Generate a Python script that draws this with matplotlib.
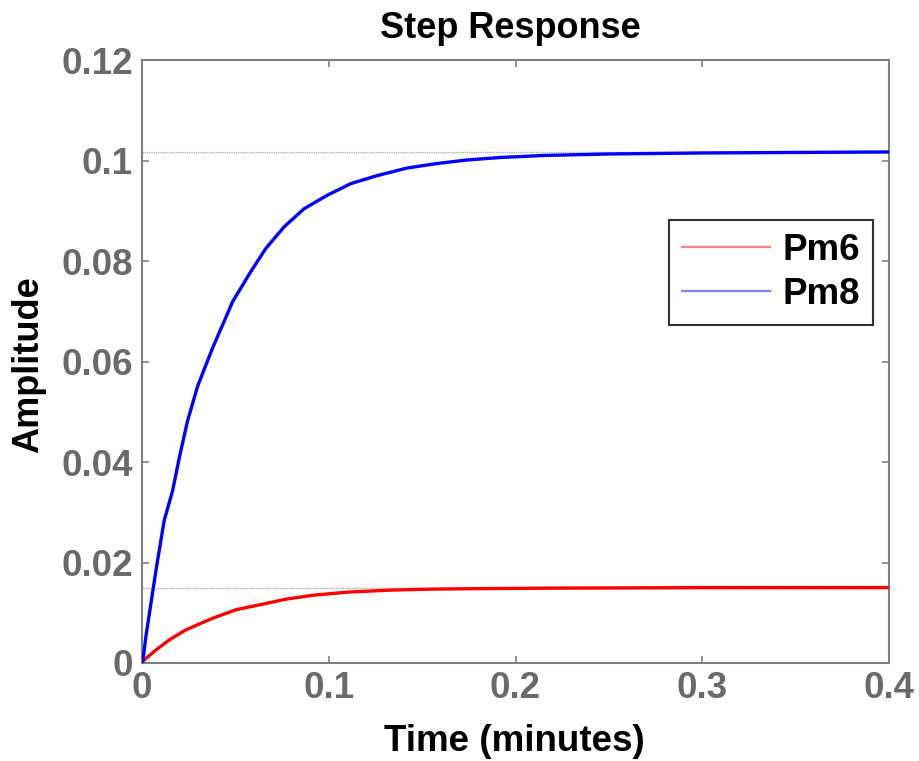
import matplotlib
matplotlib.use("Agg")
import matplotlib.pyplot as plt
from matplotlib.lines import Line2D

plt.rcParams['font.family'] = ['Liberation Sans', 'DejaVu Sans']

# Data
t_pm8 = [0.0, 0.0005, 0.0021, 0.0048, 0.0075, 0.0119, 0.0164, 0.020, 0.0244, 0.0298,
         0.0378, 0.044, 0.0485, 0.0583, 0.0663, 0.0761, 0.0868, 0.0993, 0.1118, 0.126,
         0.142, 0.158, 0.174, 0.192, 0.215, 0.25, 0.30, 0.35, 0.40]
v_pm8 = [0.0, 0.0004, 0.0053, 0.0119, 0.0185, 0.0284, 0.0343, 0.0409, 0.0482, 0.0551,
         0.0627, 0.068, 0.0719, 0.0779, 0.0825, 0.0868, 0.0904, 0.0931, 0.0954, 0.0970,
         0.0985, 0.0994, 0.1001, 0.1006, 0.1010, 0.1013, 0.1015, 0.1016, 0.1017]

t_pm6 = [0.0, 0.0005, 0.0075, 0.0146, 0.0235, 0.0378, 0.0503, 0.0645, 0.077, 0.092,
         0.110, 0.1326, 0.1545, 0.18, 0.22, 0.30, 0.40]
v_pm6 = [0.0, 0.0004, 0.0026, 0.0046, 0.0066, 0.0089, 0.0106, 0.0117, 0.0127, 0.0135,
         0.0141, 0.0145, 0.0147, 0.0148, 0.0149, 0.0150, 0.0150]

ss_pm8 = 0.1017
ss_pm6 = 0.0150

x_ticks = [0, 0.1, 0.2, 0.3, 0.4]
x_ticklabels = ['0', '0.1', '0.2', '0.3', '0.4']
y_ticks = [0, 0.02, 0.04, 0.06, 0.08, 0.1, 0.12]
y_ticklabels = ['0', '0.02', '0.04', '0.06', '0.08', '0.1', '0.12']

W, H = 919, 761
fig = plt.figure(figsize=(W / 100, H / 100), dpi=100)
ax = fig.add_axes([142 / W, 1 - 663 / H, (889 - 142) / W, (663 - 60) / H])

gray = '#6a6a6a'
spine_gray = '#808080'

ax.plot([0, 0.4], [ss_pm8, ss_pm8], color='#b0b0b0', lw=1.0, ls=(0, (1, 0.6)), zorder=1)
ax.plot([0, 0.4], [ss_pm6, ss_pm6], color='#b0b0b0', lw=1.0, ls=(0, (1, 0.6)), zorder=1)

ax.plot(t_pm6, v_pm6, color='#ff0000', lw=2.4, zorder=3)
ax.plot(t_pm8, v_pm8, color='#0000ff', lw=2.4, zorder=3)

ax.set_xlim(0, 0.4)
ax.set_ylim(0, 0.12)
ax.set_xticks(x_ticks)
ax.set_xticklabels(x_ticklabels)
ax.set_yticks(y_ticks)
ax.set_yticklabels(y_ticklabels)

for s in ax.spines.values():
    s.set_color(spine_gray)
    s.set_linewidth(1.5)

ax.tick_params(axis='both', direction='in', length=5, width=1.2, color=spine_gray,
               labelcolor=gray, labelsize=26.5, top=True, right=True)
ax.tick_params(axis='x', pad=5.5)
ax.tick_params(axis='y', pad=6.5)
for lab in ax.get_xticklabels() + ax.get_yticklabels():
    lab.set_fontweight('bold')

handles = [Line2D([0], [0], color='#ff7f7f', lw=1.6),
           Line2D([0], [0], color='#7f7fff', lw=1.6)]
leg = ax.legend(handles, ['Pm6', 'Pm8'], loc='upper right',
                bbox_to_anchor=(0.979, 0.735), borderaxespad=0,
                prop={'weight': 'bold', 'size': 26.5}, frameon=True,
                fancybox=False, handlelength=2.4, handletextpad=0.35,
                labelspacing=0.25, borderpad=0.35)
leg.get_frame().set_edgecolor('black')
leg.get_frame().set_linewidth(1.5)

fig.text(510 / W, 1 - 38 / H, 'Step Response', ha='center', va='baseline',
         fontsize=26, fontweight='bold', color='black')
fig.text(514 / W, 1 - 751 / H, 'Time (minutes)', ha='center', va='baseline',
         fontsize=26.5, fontweight='bold', color='black')
fig.text(28.5 / W, 1 - 365 / H, 'Amplitude', ha='center', va='center', rotation=90,
         fontsize=26, fontweight='bold', color='black')

fig.savefig('out.png', dpi=100)
